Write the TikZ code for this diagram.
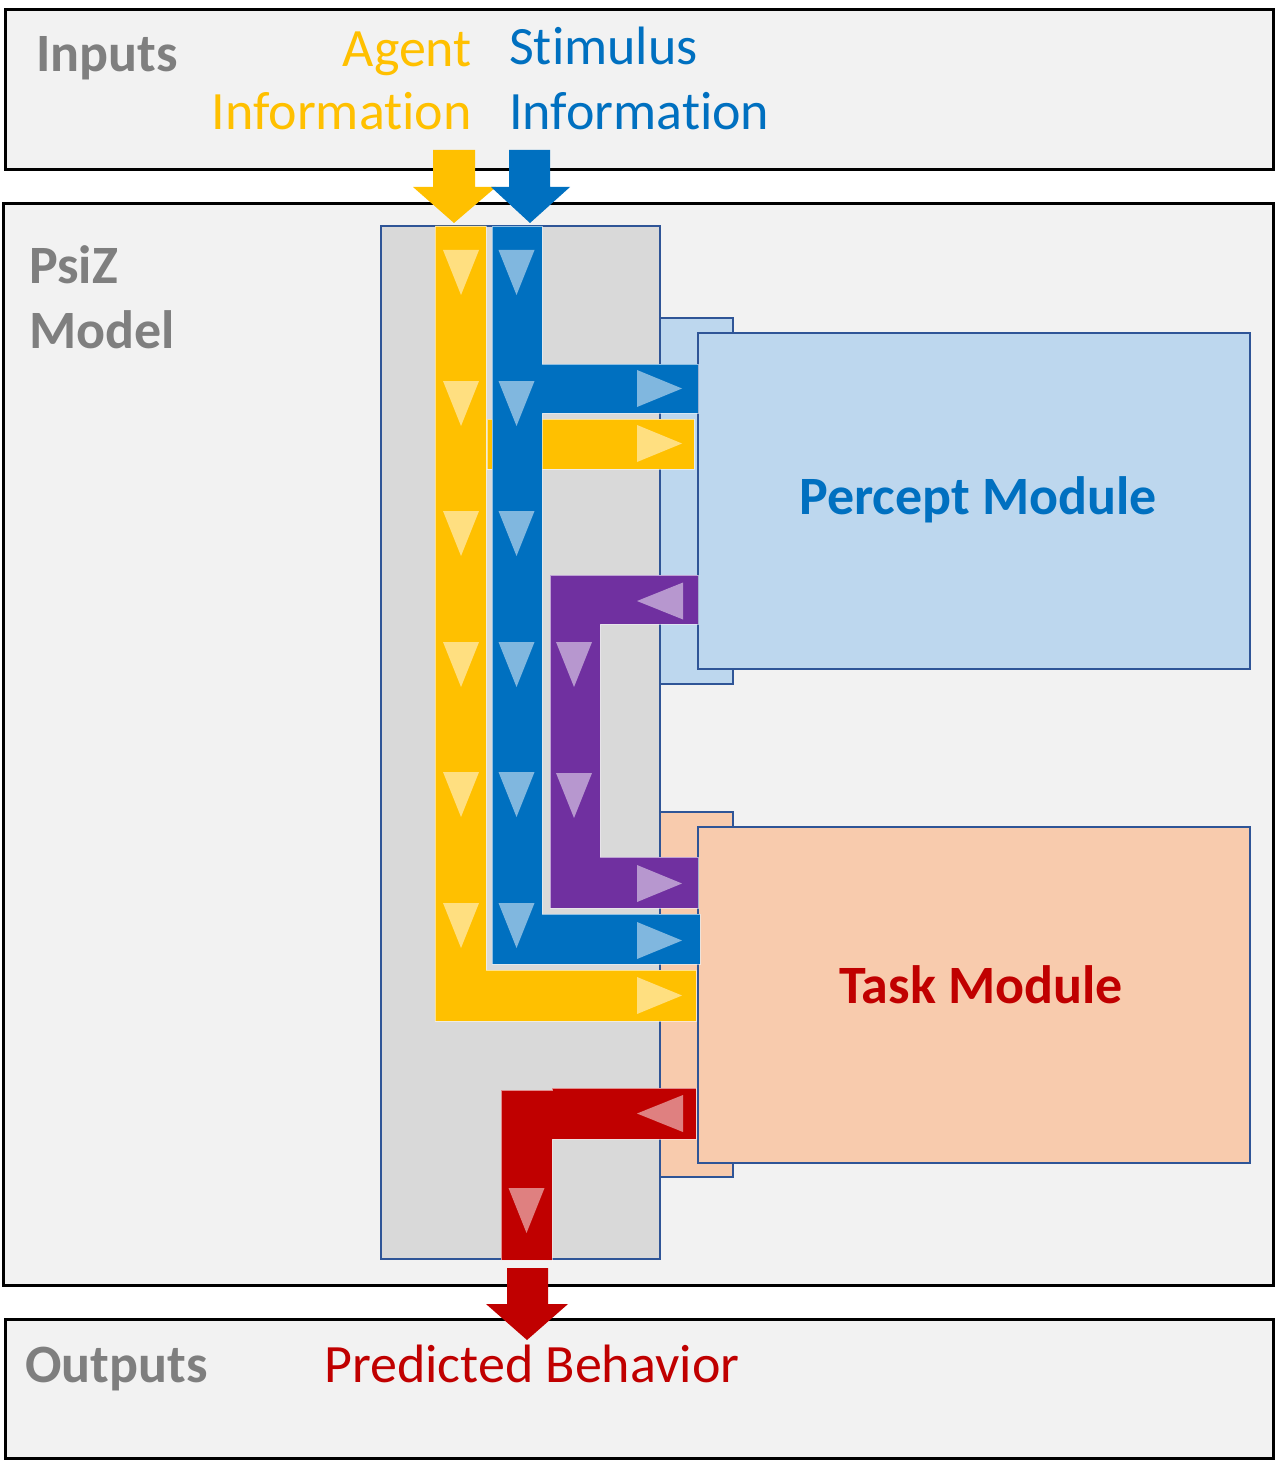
\documentclass[tikz,border=0pt]{standalone}
\usepackage{fontspec}
\setmainfont{Carlito}[Ligatures=NoCommon]
\definecolor{cYel}{HTML}{FFC000}
\definecolor{cBlu}{HTML}{0070C0}
\definecolor{cPur}{HTML}{7030A0}
\definecolor{cRed}{HTML}{C00000}
\definecolor{cGrayTxt}{HTML}{7F7F7F}
\definecolor{cBg}{HTML}{F2F2F2}
\definecolor{cPanel}{HTML}{D9D9D9}
\definecolor{cEdge}{HTML}{2F5597}
\definecolor{cPercept}{HTML}{BDD7EE}
\definecolor{cTask}{HTML}{F8CBAD}
\tikzset{
  outerbox/.style={draw=black, line width=3pt, fill=cBg},
  modbox/.style={draw=cEdge, line width=2.8pt},
  bar/.style={draw=white, draw opacity=0.55, line width=0.8pt},
  tri/.style={fill=white, fill opacity=0.5},
  bigtxt/.style={inner sep=0pt, font=\fontsize{54}{65}\selectfont},
  boldtxt/.style={bigtxt, font=\fontsize{54}{65}\selectfont\bfseries},
}
\newcommand\downtri[2]{\fill[tri] ({#1-18},#2) -- ({#1+18},#2) -- (#1,{#2+45}) -- cycle;}
\newcommand\righttri[2]{\fill[tri] (637,{#2-18.5}) -- (637,{#2+18.5}) -- (682,#2) -- cycle;}
\newcommand\lefttri[2]{\fill[tri] (683,{#2-18.5}) -- (683,{#2+18.5}) -- (637,#2) -- cycle;}
\begin{document}
\begin{tikzpicture}[x=1pt, y=-1pt]
\useasboundingbox (0,0) rectangle (1280,1463);
\fill[white] (0,0) rectangle (1280,1463);
% outer frames
\draw[outerbox] (5,9.5) rectangle (1273,170);
\draw[outerbox] (3,203.5) rectangle (1273,1285.5);
\draw[outerbox] (5,1319) rectangle (1273,1458);
% module back tabs
\draw[modbox, fill=cPercept] (650,318) rectangle (733,684);
\draw[modbox, fill=cTask] (650,812) rectangle (733,1177);
% central panel
\draw[modbox, fill=cPanel] (381,226) rectangle (660,1259);
% module front boxes
\draw[modbox, fill=cPercept] (698,333) rectangle (1250,669);
\draw[modbox, fill=cTask] (698,827) rectangle (1250,1163);
% input arrows
\fill[cYel] (433,150) -- (475,150) -- (475,187) -- (496,187) -- (454,223) -- (413,187) -- (433,187) -- cycle;
\fill[cBlu] (509,150) -- (550,150) -- (550,187) -- (570,187) -- (530,223) -- (491,187) -- (509,187) -- cycle;
% output arrow
\fill[cRed] (507,1268) -- (548,1268) -- (548,1304) -- (568,1304) -- (527,1340) -- (486,1304) -- (507,1304) -- cycle;
% yellow paths
\filldraw[bar, fill=cYel] (435,226) -- (486,226) -- (486,970) -- (696,970) -- (696,1021) -- (435,1021) -- cycle;
\filldraw[bar, fill=cYel] (487,419) rectangle (694,469);
% blue path
\filldraw[bar, fill=cBlu] (492,226) -- (542,226) -- (542,364) -- (698,364) -- (698,413) -- (542,413) -- (542,914) -- (700,914) -- (700,964) -- (492,964) -- cycle;
% purple path
\filldraw[bar, fill=cPur] (698,575) -- (550,575) -- (550,908) -- (698,908) -- (698,857) -- (600,857) -- (600,624) -- (698,624) -- cycle;
% red path
\filldraw[bar, fill=cRed] (696,1088) -- (552,1088) -- (552,1090) -- (501,1090) -- (501,1260) -- (552,1260) -- (552,1139) -- (696,1139) -- cycle;
% flow triangles
\foreach \ty in {250,381,511,642,772,903}{
  \downtri{461}{\ty}
  \downtri{516.5}{\ty}
}
\downtri{574}{642}
\downtri{574}{773}
\downtri{526.5}{1188}
\righttri{0}{388.5}
\righttri{0}{443.5}
\righttri{0}{883.5}
\righttri{0}{940.5}
\righttri{0}{995.5}
\lefttri{0}{601}
\lefttri{0}{1113.5}
% texts
\node[boldtxt, text=cGrayTxt, anchor=base west] (inputs) at (36,72) {Inputs};
\node[bigtxt, text=cYel, anchor=base east] (agent1) at (472,67) {Agent};
\node[bigtxt, text=cYel, anchor=base east] (agent2) at (472,130) {Information};
\node[bigtxt, text=cBlu, anchor=base west] (stim1) at (509,65) {Stimulus};
\node[bigtxt, text=cBlu, anchor=base west] (stim2) at (509,130) {Information};
\node[boldtxt, text=cGrayTxt, anchor=base west] (psiz1) at (29,283) {PsiZ};
\node[boldtxt, text=cGrayTxt, anchor=base west] (psiz2) at (29,348) {Model};
\node[boldtxt, text=cBlu, anchor=base] (percept) at (978,514) {Percept Module};
\node[boldtxt, text=cRed, anchor=base] (task) at (981,1003) {Task Module};
\node[boldtxt, text=cGrayTxt, anchor=base west] (outputs) at (25,1382) {Outputs};
\node[bigtxt, text=cRed, anchor=base west] (pred) at (324,1382) {Predicted Behavior};
\end{tikzpicture}
\end{document}
